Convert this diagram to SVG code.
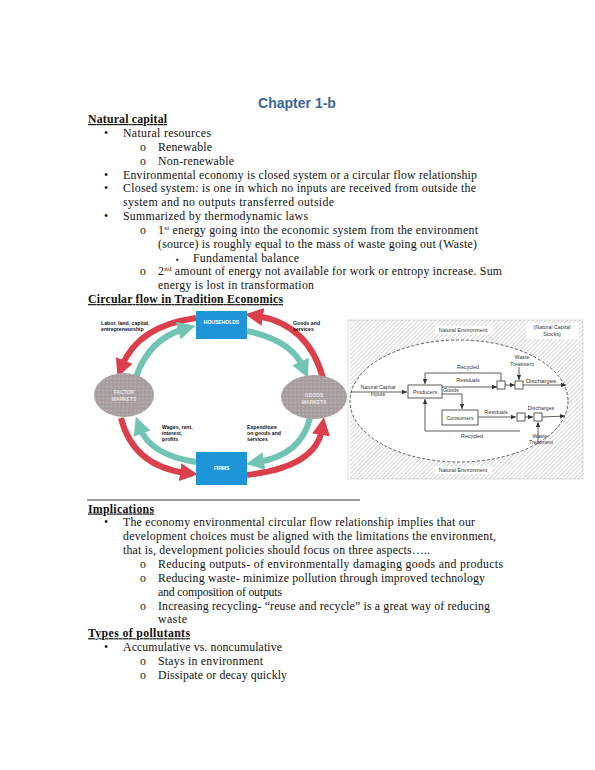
<svg xmlns="http://www.w3.org/2000/svg" width="595" height="770" viewBox="0 0 595 770">
<style>
.t{font-family:"Liberation Serif","DejaVu Serif",serif;font-size:11.8px;fill:#111}
.h{font-family:"Liberation Serif","DejaVu Serif",serif;font-size:11.8px;font-weight:bold;fill:#111;text-decoration:underline}
.sup{font-size:7px}
.cl{font-family:"Liberation Sans",Arial,sans-serif;font-size:5.2px;font-weight:bold;fill:#111}
.cw{font-family:"Liberation Sans",Arial,sans-serif;font-size:5px;font-weight:bold;fill:#fff}
.cm{font-family:"Liberation Sans",Arial,sans-serif;font-size:5px;font-weight:bold;fill:#e8e4e4;text-anchor:middle}
.red{fill:none;stroke:#dc3f4c;stroke-width:6}
.grn{fill:none;stroke:#72c4b2;stroke-width:6}
.nl{font-family:"Liberation Sans",Arial,sans-serif;font-size:5.3px;fill:#333}
.ln{fill:none;stroke:#333;stroke-width:0.8}
.bx{fill:#fff;stroke:#333;stroke-width:0.8}
</style>
<defs>
<marker id="ar" markerWidth="3" markerHeight="3" refX="1" refY="1.5" orient="auto" markerUnits="strokeWidth"><path d="M0,0 L3,1.5 L0,3 Z" fill="#dc3f4c"/></marker>
<marker id="ag" markerWidth="3" markerHeight="3" refX="1" refY="1.5" orient="auto" markerUnits="strokeWidth"><path d="M0,0 L3,1.5 L0,3 Z" fill="#72c4b2"/></marker>
<marker id="ak" markerWidth="6" markerHeight="6" refX="5" refY="3" orient="auto" markerUnits="userSpaceOnUse"><path d="M0,0.8 L5,3 L0,5.2 Z" fill="#333"/></marker>
<pattern id="hatch" width="3" height="3" patternUnits="userSpaceOnUse" patternTransform="rotate(45)"><line x1="0" y1="0" x2="0" y2="3" stroke="#8a8a8a" stroke-width="0.7"/></pattern>
<pattern id="speck" width="4" height="4" patternUnits="userSpaceOnUse"><rect width="4" height="4" fill="#a7a1a1"/><circle cx="1" cy="1" r="0.5" fill="#c07c84"/><circle cx="3" cy="2.5" r="0.5" fill="#d2cccc"/><circle cx="2" cy="3.5" r="0.4" fill="#8e8888"/></pattern>
</defs>
<rect width="595" height="770" fill="#fff"/>

<g id="text-top">
<text x="297" y="108" text-anchor="middle" style="font-family:'Liberation Sans',Arial,sans-serif;font-size:14px;font-weight:bold;fill:#3a6596">Chapter 1-b</text>
<text class="h" x="88" y="123" textLength="79">Natural capital</text>
<text class="t" x="104" y="137">•</text><text class="t" x="123" y="137" textLength="88">Natural resources</text>
<text class="t" x="140" y="151">o</text><text class="t" x="158" y="151" textLength="54">Renewable</text>
<text class="t" x="140" y="165">o</text><text class="t" x="158" y="165" textLength="76">Non-renewable</text>
<text class="t" x="104" y="178.5">•</text><text class="t" x="123" y="178.5" textLength="354">Environmental economy is closed system or a circular flow relationship</text>
<text class="t" x="104" y="192.3">•</text><text class="t" x="123" y="192.3" textLength="353">Closed system: is one in which no inputs are received from outside the</text>
<text class="t" x="123" y="206.1" textLength="211">system and no outputs transferred outside</text>
<text class="t" x="104" y="220">•</text><text class="t" x="123" y="220" textLength="185">Summarized by thermodynamic laws</text>
<text class="t" x="140" y="233.8">o</text><text class="t" x="158" y="233.8" textLength="320">1<tspan class="sup" dy="-4">st</tspan><tspan dy="4"> energy going into the economic system from the environment</tspan></text>
<text class="t" x="158" y="247.7" textLength="319">(source) is roughly equal to the mass of waste going out (Waste)</text>
<text class="t" x="176" y="261.5" style="font-size:8px">▪</text><text class="t" x="193" y="261.5" textLength="106">Fundamental balance</text>
<text class="t" x="140" y="275.4">o</text><text class="t" x="158" y="275.4" textLength="344">2<tspan class="sup" dy="-4">nd</tspan><tspan dy="4"> amount of energy not available for work or entropy increase. Sum</tspan></text>
<text class="t" x="158" y="289.2" textLength="156">energy is lost in transformation</text>
<text class="h" x="88" y="303.1" textLength="195">Circular flow in Tradition Economics</text>
</g>

<g id="circular-flow">
<rect x="93" y="311" width="252" height="178" fill="#fff"/>
<g id="connectors-cf">
<path class="red" d="M196,318 Q138,326 122,366" marker-end="url(#ar)"/>
<path class="grn" d="M136,377 Q149,339 184,329" marker-end="url(#ag)"/>
<path class="red" d="M323,378 Q308,324 257,316" marker-end="url(#ar)"/>
<path class="grn" d="M247,331 Q291,340 303,367" marker-end="url(#ag)"/>
<path class="red" d="M121,418 Q133,466 186,473" marker-end="url(#ar)"/>
<path class="grn" d="M196,462 Q150,455 140,428" marker-end="url(#ag)"/>
<path class="grn" d="M310,418 Q301,455 258,462" marker-end="url(#ag)"/>
<path class="red" d="M247,475 Q316,467 322,429" marker-end="url(#ar)"/>
</g>
<g id="households"><rect x="196" y="311" width="51" height="28" fill="#1f95d9"/><text class="cw" x="221.5" y="324" text-anchor="middle">HOUSEHOLDS</text></g>
<g id="firms"><rect x="196" y="452" width="51" height="33" fill="#1f95d9"/><text class="cw" x="221.5" y="470" text-anchor="middle">FIRMS</text></g>
<g id="factor-markets"><ellipse cx="124" cy="395" rx="30" ry="22" fill="url(#speck)"/><text class="cm" x="124" y="394">FACTOR</text><text class="cm" x="124" y="401">MARKETS</text></g>
<g id="goods-markets"><ellipse cx="314" cy="397" rx="33" ry="22" fill="url(#speck)"/><text class="cm" x="314" y="397">GOODS</text><text class="cm" x="314" y="404">MARKETS</text></g>
<text class="cl" x="101" y="325">Labor, land, capital,</text>
<text class="cl" x="101" y="331">entrepreneurship</text>
<text class="cl" x="293" y="325">Goods and</text>
<text class="cl" x="293" y="331">services</text>
<text class="cl" x="162" y="429">Wages, rent,</text>
<text class="cl" x="162" y="435">interest,</text>
<text class="cl" x="162" y="441">profits</text>
<text class="cl" x="247" y="429">Expenditure</text>
<text class="cl" x="247" y="435">on goods and</text>
<text class="cl" x="247" y="441">services</text>
</g>

<g id="natural-environment">
<rect x="348" y="320" width="235" height="159" fill="#fff" stroke="#bbb" stroke-width="0.5"/>
<rect x="350" y="320" width="233" height="159" fill="url(#hatch)"/>
<ellipse cx="459" cy="401" rx="109" ry="61" fill="#fff" stroke="#333" stroke-width="0.8" stroke-dasharray="3,2"/>
<rect x="435" y="326" width="57" height="8" fill="#fff"/>
<text class="nl" x="463" y="332" text-anchor="middle">Natural Environment</text>
<rect x="526" y="323" width="53" height="16" fill="#fff"/>
<text class="nl" x="552" y="329" text-anchor="middle">(Natural Capital</text>
<text class="nl" x="552" y="336" text-anchor="middle">Stocks)</text>
<rect x="435" y="466" width="57" height="8" fill="#fff"/>
<text class="nl" x="463" y="472" text-anchor="middle">Natural Environment</text>
<g id="connectors-ne">
<path class="ln" d="M351,392 L407,392" marker-end="url(#ak)"/>
<path class="ln" d="M442,387 L497,387" marker-end="url(#ak)"/>
<path class="ln" d="M501,383 L501,373 L425,373 L425,384" marker-end="url(#ak)"/>
<path class="ln" d="M505,385 L515,385" marker-end="url(#ak)"/>
<path class="ln" d="M519,367 L519,380" marker-end="url(#ak)"/>
<path class="ln" d="M523,385 L566,385" marker-end="url(#ak)"/>
<path class="ln" d="M442,394 L462,394 L462,409" marker-end="url(#ak)"/>
<path class="ln" d="M478,417 L516,417" marker-end="url(#ak)"/>
<path class="ln" d="M525,417 L533,417" marker-end="url(#ak)"/>
<path class="ln" d="M542,417 L565,416" marker-end="url(#ak)"/>
<path class="ln" d="M538,442 L538,422" marker-end="url(#ak)"/>
<path class="ln" d="M520,431 L425,431 L425,399" marker-end="url(#ak)"/>
</g>
<g id="producers"><rect class="bx" x="408" y="385" width="34" height="13"/><text class="nl" x="425" y="393.5" text-anchor="middle">Producers</text></g>
<g id="consumers"><rect class="bx" x="442" y="410" width="36" height="15"/><text class="nl" x="460" y="419.5" text-anchor="middle">Consumers</text></g>
<g id="box1"><rect class="bx" x="497" y="381" width="8" height="8"/></g>
<g id="box2"><rect class="bx" x="515" y="381" width="8" height="8"/></g>
<g id="box3"><rect class="bx" x="517" y="413" width="8" height="8"/></g>
<g id="box4"><rect class="bx" x="534" y="413" width="8" height="8"/></g>
<text class="nl" x="378" y="389" text-anchor="middle">Natural Capital</text>
<text class="nl" x="378" y="396" text-anchor="middle">Inputs</text>
<text class="nl" x="443" y="392">Goods</text>
<text class="nl" x="468" y="382" text-anchor="middle">Residuals</text>
<text class="nl" x="468" y="369" text-anchor="middle">Recycled</text>
<text class="nl" x="522" y="359" text-anchor="middle">Waste</text>
<text class="nl" x="522" y="366" text-anchor="middle">Treatment</text>
<text class="nl" x="541" y="383" text-anchor="middle" style="font-size:6px">Discharges</text>
<text class="nl" x="496" y="414" text-anchor="middle">Residuals</text>
<text class="nl" x="541" y="410" text-anchor="middle">Discharges</text>
<text class="nl" x="540" y="438" text-anchor="middle">Waste</text>
<text class="nl" x="541" y="444" text-anchor="middle">Treatment</text>
<text class="nl" x="472" y="438" text-anchor="middle">Recycled</text>
</g>

<g id="text-bottom">
<line x1="87" y1="500" x2="360" y2="500" stroke="#222" stroke-width="0.9"/>
<text class="h" x="88" y="512.5" textLength="66">Implications</text>
<text class="t" x="104" y="526.4">•</text><text class="t" x="123" y="526.4" textLength="352">The economy environmental circular flow relationship implies that our</text>
<text class="t" x="123" y="540.2" textLength="373">development choices must be aligned with the limitations the environment,</text>
<text class="t" x="123" y="554.1" textLength="307">that is, development policies should focus on three aspects…..</text>
<text class="t" x="140" y="567.9">o</text><text class="t" x="158" y="567.9" textLength="345">Reducing outputs- of environmentally damaging goods and products</text>
<text class="t" x="140" y="581.8">o</text><text class="t" x="158" y="581.8" textLength="327">Reducing waste- minimize pollution through improved technology</text>
<text class="t" x="158" y="595.6" textLength="124">and composition of outputs</text>
<text class="t" x="140" y="609.5">o</text><text class="t" x="158" y="609.5" textLength="332">Increasing recycling- “reuse and recycle” is a great way of reducing</text>
<text class="t" x="158" y="623.3" textLength="29">waste</text>
<text class="h" x="88" y="637.2" textLength="102">Types of pollutants</text>
<text class="t" x="104" y="651">•</text><text class="t" x="123" y="651" textLength="159">Accumulative vs. noncumulative</text>
<text class="t" x="140" y="664.9">o</text><text class="t" x="158" y="664.9" textLength="105">Stays in environment</text>
<text class="t" x="140" y="678.7">o</text><text class="t" x="158" y="678.7" textLength="129">Dissipate or decay quickly</text>
</g>
</svg>
